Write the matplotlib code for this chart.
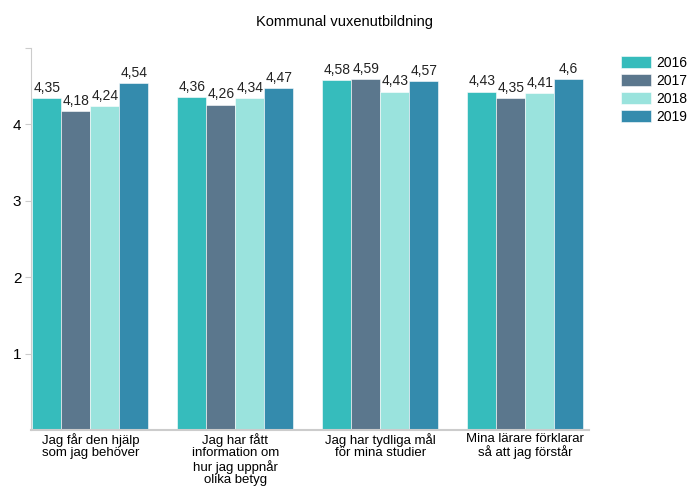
import matplotlib
matplotlib.use("Agg")
import matplotlib.pyplot as plt
import numpy as np

plt.rcParams['font.family'] = ['Liberation Sans', 'DejaVu Sans']

title = "Kommunal vuxenutbildning"
categories = ["Jag får den hjälp\nsom jag behöver",
              "Jag har fått\ninformation om\nhur jag uppnår\nolika betyg",
              "Jag har tydliga mål\nför mina studier",
              "Mina lärare förklarar\nså att jag förstår"]
years = ["2016", "2017", "2018", "2019"]
v2016 = [4.35, 4.36, 4.58, 4.43]
v2017 = [4.18, 4.26, 4.59, 4.35]
v2018 = [4.24, 4.34, 4.43, 4.41]
v2019 = [4.54, 4.47, 4.57, 4.60]
series = [v2016, v2017, v2018, v2019]
colors = ["#36BCBC", "#5B778D", "#9AE3DD", "#348BAD"]

fig = plt.figure(figsize=(6.89, 4.86), dpi=100)
ax = fig.add_axes([31/689, 1-430/486, (589-31)/689, (430-48)/486])

x = np.arange(len(categories))
bw = 0.2
handles = []
for i, (vals, c, lab) in enumerate(zip(series, colors, years)):
    pos = x + (i - 1.5) * bw
    b = ax.bar(pos, vals, width=bw, color=c, edgecolor="white", linewidth=0.4, label=lab)
    handles.append(b)
    for p, v in zip(pos, vals):
        ax.text(p, v + 0.04, f"{v:g}".replace(".", ","), ha="center", va="bottom", fontsize=10, color="#222222")

ax.set_xlim(-0.41, 3.44)
ax.set_ylim(0, 5)
ax.set_yticks([1, 2, 3, 4, 5])
ax.set_yticklabels(["1", "2", "3", "4", ""], fontsize=11)
ax.set_xticks(x)
ax.set_xticklabels(categories, fontsize=9.5, linespacing=1.05)
ax.tick_params(axis="x", length=0, pad=2)
ax.tick_params(axis="y", length=4, color="#cccccc", pad=3)
for s in ["top", "right"]:
    ax.spines[s].set_visible(False)
ax.spines["left"].set_color("#cccccc")
ax.spines["bottom"].set_color("#cccccc")
ax.spines["bottom"].set_linewidth(1.5)

fig.text(0.5, 1-22/486, title, ha="center", va="center", fontsize=10.5)

fig.legend(handles=handles, labels=years, loc="upper left", bbox_to_anchor=(615/689, 1-50/486),
           frameon=False, fontsize=10, handlelength=2.2, handleheight=0.9,
           handletextpad=0.4, labelspacing=0.3, borderaxespad=0)

fig.savefig("out.png", dpi=100)
